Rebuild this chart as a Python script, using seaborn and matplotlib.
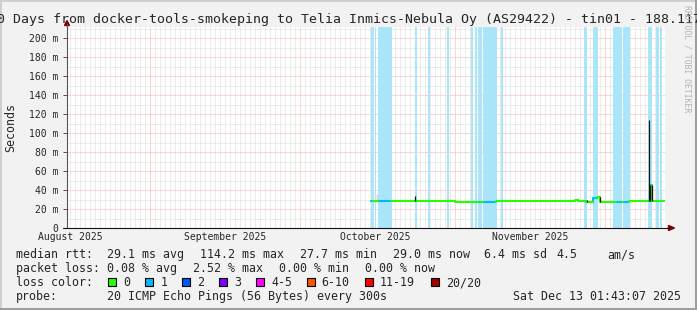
import numpy as np
import pandas as pd
import matplotlib
matplotlib.use("Agg")
import matplotlib.pyplot as plt
import matplotlib.dates as mdates
import matplotlib.transforms as mtransforms
from matplotlib.ticker import MultipleLocator, FuncFormatter
from matplotlib.patches import Rectangle, Polygon
from matplotlib.lines import Line2D
import seaborn as sns

W, H = 697, 310
REF = pd.Timestamp("2025-09-01")

# ---------------- data ----------------
# median rtt as a step series: breakpoints (days after 2025-09-01), value per interval (ms), lost pings (of 20)
seg_t = [44.14, 44.54, 44.90, 45.10, 45.54, 48.14, 53.00, 53.20, 55.54, 55.74,
         59.34, 59.54, 60.90, 64.14, 64.34, 65.00, 65.20, 65.66, 66.20, 66.54,
         69.14, 70.20, 70.40, 85.00, 85.60, 86.86, 87.26, 88.66, 89.34, 89.90,
         92.54, 93.00, 93.20, 94.30, 94.54, 95.80, 99.50, 99.90, 100.06, 100.30,
         101.10, 101.50, 101.90, 102.26, 103.00]
seg_rtt = [28.0, 28.0, 28.0, 28.0, 28.0, 28.9, 28.9, 28.9, 28.9, 28.9,
           28.9, 28.9, 27.8, 27.8, 27.8, 27.8, 27.8, 27.8, 27.8, 27.8,
           28.9, 28.9, 28.9, 29.6, 28.9, 28.9, 27.8, 31.8, 32.3, 27.8,
           27.8, 27.8, 27.8, 27.8, 27.8, 28.9, 28.9, 28.9, 45.0, 28.9,
           28.9, 28.9, 28.9, 28.9]
seg_loss = [1, 0, 1, 0, 1, 0, 1, 0, 1, 0,
            1, 0, 0, 1, 0, 1, 0, 1, 0, 1,
            0, 1, 0, 0, 0, 1, 0, 1, 0, 0,
            1, 0, 1, 0, 1, 0, 1, 0, 1, 0,
            1, 0, 1, 0]

# smoke (ping spread) spikes: time (days after 2025-09-01), low, high (ms)
smoke_t = [53.08, 87.40, 89.90, 99.80, 100.06, 100.30]
smoke_lo = [28.9, 27.8, 27.8, 28.9, 28.9, 28.9]
smoke_hi = [34.0, 29.5, 32.3, 114.2, 45.0, 45.0]
light_smoke_t = [44.9, 45.3, 59.4, 66.9]
light_smoke_lo = [28.0, 28.0, 28.9, 27.8]
light_smoke_hi = [38.0, 36.0, 35.0, 33.0]

month_labels = ["August 2025", "September 2025", "October 2025", "November 2025"]
month_label_days = [-16.0, 15.0, 45.0, 76.0]   # label anchor (days after 2025-09-01)

y_ticks = [0, 20, 40, 60, 80, 100, 120, 140, 160, 180, 200]

title = ("120 Days from docker-tools-smokeping to Telia Inmics-Nebula Oy "
         "(AS29422) - tin01 - 188.117")
median_head = "median rtt:"
median_stats = ["29.1 ms avg", "114.2 ms max", "27.7 ms min", "29.0 ms now",
                "6.4 ms sd", "4.5", "am/s"]
loss_head = "packet loss:"
loss_stats = ["0.08 % avg", "2.52 % max", "0.00 % min", "0.00 % now"]
color_head = "loss color:"
loss_names = ["0", "1", "2", "3", "4-5", "6-10", "11-19", "20/20"]
loss_colors = ["#26ff00", "#00b8ff", "#0059ff", "#7e00ff",
               "#ff00ff", "#ff5500", "#ff0000", "#a10000"]
probe_head = "probe:"
probe_text = "20 ICMP Echo Pings (56 Bytes) every 300s"
stamp_text = "Sat Dec 13 01:43:07 2025"

# ---------------- style ----------------
sns.set_style("white")
plt.rcParams["font.family"] = ["DejaVu Sans Mono"]
MONO = "DejaVu Sans Mono"
BG = "#f2f2f2"
BAND = "#abe5fa"


def day(d):
    return REF + pd.Timedelta(days=d)


def dn(d):
    return mdates.date2num(day(d))


def fx(x):
    return x / W


def fy(y):
    return 1 - y / H


fig = plt.figure(figsize=(W / 100, H / 100), dpi=100, facecolor=BG)
ax = fig.add_axes([fx(67), fy(228), (665 - 67) / W, (228 - 27) / H])
ax.set_facecolor("white")

ytop = (228 - 27) / ((228 - 38.3) / 200.0)
ax.set_ylim(0, ytop)
ax.set_xlim(dn(-16.6), dn(103.0))

# grid
ax.yaxis.set_major_locator(MultipleLocator(20))
ax.yaxis.set_minor_locator(MultipleLocator(10))
ax.xaxis.set_major_locator(mdates.MonthLocator())
ax.xaxis.set_minor_locator(mdates.DayLocator())
ax.grid(which="minor", color="#dadada", lw=0.72, ls=(0, (1, 1)), zorder=0)
ax.grid(which="major", color="#f4b0b0", lw=0.72, ls=(0, (1, 1)), zorder=0)
ax.set_axisbelow(True)

# loss bands (edge line keeps the narrow ones at least one pixel wide)
for i, l in enumerate(seg_loss):
    if l > 0:
        ax.axvspan(dn(seg_t[i]), dn(seg_t[i + 1]), facecolor=BAND, edgecolor=BAND,
                   lw=0.6, zorder=1, antialiased=False)

# light smoke
for t, lo, hi in zip(light_smoke_t, light_smoke_lo, light_smoke_hi):
    ax.vlines(dn(t), lo, hi, color="#d6d6d6", lw=1.0, zorder=2)

# median line via seaborn
rows = []
for i in range(len(seg_rtt)):
    prev = seg_rtt[i - 1] if i > 0 else seg_rtt[i]
    for t, v in ((seg_t[i], prev), (seg_t[i], seg_rtt[i]), (seg_t[i + 1], seg_rtt[i])):
        rows.append(dict(t=day(t), rtt=v, loss=str(seg_loss[i]), seg=i))
df = pd.DataFrame(rows)
palette = {str(k): c for k, c in zip(range(len(loss_colors)), loss_colors)}
sns.lineplot(data=df, x="t", y="rtt", hue="loss", units="seg", estimator=None,
             sort=False, palette=palette, legend=False, lw=1.5, ax=ax, zorder=4)

# dark smoke spikes
for t, lo, hi in zip(smoke_t, smoke_lo, smoke_hi):
    ax.vlines(dn(t), lo, hi, color="#111111", lw=0.9, zorder=5)

for s in ax.spines.values():
    s.set_visible(False)
ax.set_xlabel("")
ax.set_ylabel("")

# ticks
ax.set_yticks(y_ticks)
ax.yaxis.set_major_formatter(FuncFormatter(lambda v, p: "0" if v == 0 else f"{int(v)} m"))
ax.tick_params(axis="y", which="major", left=True, length=3.0, width=0.72,
               color="#555555", pad=3.3, labelsize=7.06)
ax.tick_params(axis="y", which="minor", left=False)
ax.tick_params(axis="x", which="both", bottom=False, labelbottom=False)
for lab in ax.get_yticklabels():
    lab.set_family(MONO)

xlab_tr = mtransforms.blended_transform_factory(ax.transData, fig.transFigure)
for lab, d in zip(month_labels, month_label_days):
    ax.text(dn(d), fy(240.5), lab, transform=xlab_tr,
            ha="center", va="baseline", fontsize=7.06, family=MONO)

# axes lines and arrows (figure pixel coordinates)
fig.add_artist(Line2D([fx(67), fx(67)], [fy(228), fy(24)], color="#555555", lw=0.8))
fig.add_artist(Line2D([fx(62.5), fx(669)], [fy(228), fy(228)], color="#111111", lw=0.8))
fig.add_artist(Polygon([(fx(64.5), fy(25.5)), (fx(69.5), fy(25.5)), (fx(67), fy(20.5))],
                       closed=True, color="#7f0000", transform=fig.transFigure))
fig.add_artist(Polygon([(fx(668.5), fy(225.5)), (fx(668.5), fy(230.5)), (fx(674.5), fy(228))],
                       closed=True, color="#7f0000", transform=fig.transFigure))

# title, labels
fig.text(fx(-19.3), fy(23.5), title, ha="left", va="baseline", fontsize=9.57, family=MONO)
fig.text(fx(10.5), fy(127.5), "Seconds", rotation=90, ha="center", va="center",
         fontsize=8.37, family=MONO)
fig.text(fx(687), fy(5), "RRDTOOL / TOBI OETIKER", rotation=270, ha="center", va="top",
         fontsize=5.9, family=MONO, color="#b4b4b4")

# legend rows
LS = 8.37
fig.text(fx(16), fy(258.3), median_head, fontsize=LS, family=MONO, va="baseline")
for s, x in zip(median_stats, [107.3, 200, 300, 393.3, 483.5, 556, 607.7]):
    fig.text(fx(x), fy(258.3), s, fontsize=LS, family=MONO, va="baseline")
fig.text(fx(16), fy(272.3), loss_head, fontsize=LS, family=MONO, va="baseline")
for s, x in zip(loss_stats, [107.3, 193.3, 279.3, 365]):
    fig.text(fx(x), fy(272.3), s, fontsize=LS, family=MONO, va="baseline")
fig.text(fx(16), fy(286.3), color_head, fontsize=LS, family=MONO, va="baseline")
for name, c, x in zip(loss_names, loss_colors, [108.3, 145.3, 182.3, 219.3, 256.3, 306.7, 365, 431]):
    fig.add_artist(Rectangle((fx(x), fy(286)), 8 / W, 8 / H, facecolor=c, edgecolor="black",
                             lw=0.8, transform=fig.transFigure))
    fig.text(fx(x + 15), fy(286.3), name, fontsize=LS, family=MONO, va="baseline")
fig.text(fx(16), fy(300.2), probe_head, fontsize=LS, family=MONO, va="baseline")
fig.text(fx(107.3), fy(300.2), probe_text, fontsize=LS, family=MONO, va="baseline")
fig.text(fx(513.3), fy(300.2), stamp_text, fontsize=LS, family=MONO, va="baseline")

# bevel frame
fig.add_artist(Rectangle((0, fy(2)), 1, 2 / H, color="#cfcfcf", lw=0, transform=fig.transFigure))
fig.add_artist(Rectangle((0, 0), 2 / W, 1, color="#cfcfcf", lw=0, transform=fig.transFigure))
fig.add_artist(Rectangle((0, 0), 1, 2.5 / H, color="#9e9e9e", lw=0, transform=fig.transFigure))
fig.add_artist(Rectangle((fx(694.5), 0), 2.5 / W, 1, color="#9e9e9e", lw=0, transform=fig.transFigure))

fig.savefig("out.png", dpi=100, facecolor=BG)
